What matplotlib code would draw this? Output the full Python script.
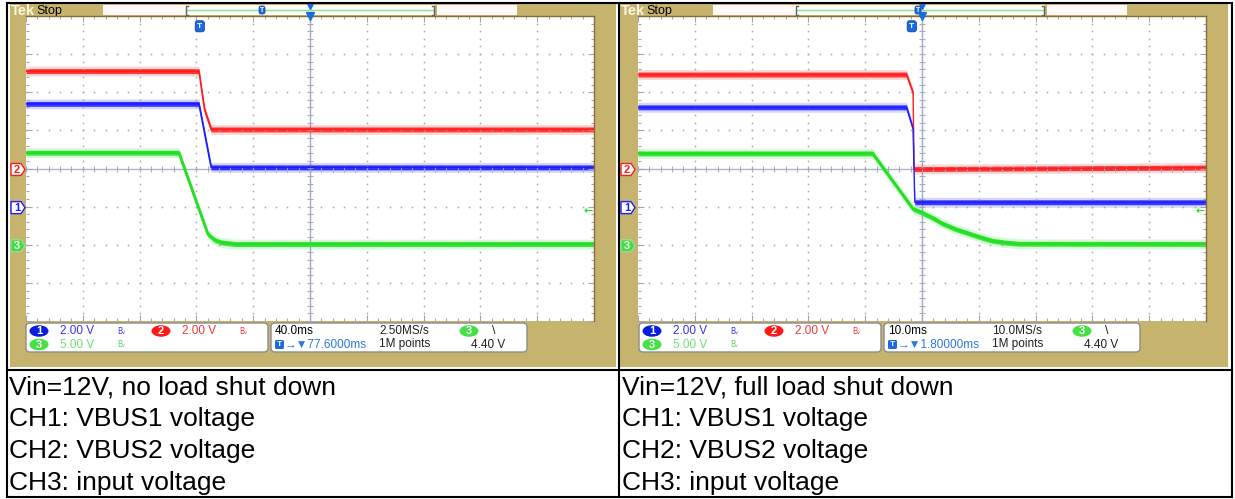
import numpy as np
import matplotlib
matplotlib.use('Agg')
from matplotlib import pyplot as plt
from matplotlib.patches import Rectangle, FancyBboxPatch, Polygon, Ellipse

# ---- data read off the two scope captures (t in ms, values in V) ----
# left: no load shut down, 40 ms/div, trigger offset 77.6 ms
ch1_left_t = [-122.4, -0.6, 8.0, 277.6]
ch1_left_v = [5.39, 5.39, 2.06, 2.06]
ch2_left_t = [-122.4, -0.6, 3.3, 8.0, 277.6]
ch2_left_v = [5.11, 5.11, 3.10, 2.05, 2.05]
ch3_left_t = [-122.4, -14.7, 5.7, 10.1, 15.1, 25.0, 277.6]
ch3_left_v = [12.07, 12.07, 1.40, 0.66, 0.30, 0.09, 0.09]

# right: full load shut down, 10 ms/div, trigger offset 1.8 ms
ch1_right_t = [-48.2, -0.93, 0.23, 0.53, 51.8]
ch1_right_v = [5.21, 5.21, 4.08, 0.23, 0.23]
ch2_right_t = [-48.2, -0.93, 0.23, 0.40, 51.8]
ch2_right_v = [4.93, 4.93, 3.97, -0.03, 0.05]
ch3_right_t = [-48.2, -6.9, 0.23, 1.70, 3.6, 5.44, 7.8, 10.2, 12.3, 14.2, 16.5, 18.9, 51.8]
ch3_right_v = [11.98, 11.98, 4.69, 4.24, 3.55, 2.76, 2.02, 1.44, 0.92, 0.52, 0.28, 0.13, 0.10]

volts_div = {'1': 2.0, '2': 2.0, '3': 5.0}
gnd_div = {'1': -1.0, '2': 0.0, '3': -2.0}
trig_level = 4.40

captions_left = ['Vin=12V, no load shut down', 'CH1: VBUS1 voltage',
                 'CH2: VBUS2 voltage', 'CH3: input voltage']
captions_right = ['Vin=12V, full load shut down', 'CH1: VBUS1 voltage',
                  'CH2: VBUS2 voltage', 'CH3: input voltage']

W, H = 1235, 499
TAN = '#c6b46e'
RED, BLUE, GREEN = '#ff1c1c', '#1c1cff', '#24e024'
GRIDC = '#a6a6a6'
SF = ['Liberation Sans', 'DejaVu Sans']

fig = plt.figure(figsize=(W / 100, H / 100), dpi=100)


def px_axes(x0, y0, x1, y1, z=0):
    return fig.add_axes([x0 / W, 1 - y1 / H, (x1 - x0) / W, (y1 - y0) / H], zorder=z)


bg = px_axes(0, 0, W, H)
bg.set_xlim(0, W)
bg.set_ylim(H, 0)
bg.axis('off')

GY0, GY1 = 16, 321
DIVPX = (GY1 - GY0) / 8.0
GYC = (GY0 + GY1) / 2.0


def div_to_px(d):
    return GYC - d * DIVPX


def trace(ax, t, v, ch, color, lw):
    y = np.array(v) / volts_div[ch] + gnd_div[ch]
    ax.fill_between(t, y - 0.13, y + 0.13, color=color, alpha=0.18, lw=0)
    ax.fill_between(t, y - 0.065, y + 0.065, color=color, alpha=0.85, lw=0)
    ax.plot(t, y, color=color, lw=lw, solid_capstyle='butt')


def tmark(ax_, x, y, fs, w, h):
    ax_.add_patch(FancyBboxPatch((x - w / 2, y - h / 2), w, h,
                                 boxstyle='round,pad=0,rounding_size=2',
                                 fc='#1a6ae0', ec='#0a3a9a', lw=0.5, zorder=6))
    ax_.text(x, y + 0.5, 'T', color='white', fontsize=fs, fontweight='bold',
             ha='center', va='center', family=SF, zorder=7)


def scope(tan0, tan1, gx0, gx1, center, tdiv, traces, bar_t, pan, tb, trig_txt):
    # tan frame
    bg.add_patch(Rectangle((tan0, 4), tan1 - tan0, 363, fc=TAN, ec='none'))
    # top bar
    bg.text(tan0 + 1, 10.5, 'Tek', color='#fbf4dc', fontsize=10.5, fontweight='bold',
            family=SF, va='center')
    bg.text(tan0 + 26, 10.5, 'Stop', color='black', fontsize=9, family=SF, va='center')
    bg.add_patch(Rectangle((tan0 + 93, 5), 82, 10, fc='#fff8f8', ec='none'))
    bg.add_patch(Rectangle((tan0 + 175, 5), 250, 10, fc='white', ec='none'))
    bg.plot([tan0 + 176, tan0 + 424], [9.5, 9.5], color='#88e088', lw=1)
    for bx, sgn in [(tan0 + 176, 1), (tan0 + 424, -1)]:
        bg.plot([bx + 2 * sgn, bx, bx, bx + 2 * sgn], [5.5, 5.5, 14.5, 14.5],
                color='#606060', lw=1)
    bg.add_patch(Rectangle((tan0 + 427, 5), 80, 10, fc='#fff8f8', ec='none'))
    tmark(bg, bar_t, 10, 5, 6, 8)
    gxc = (gx0 + gx1) / 2.0
    bg.plot([gxc], [6], marker='v', color='#1a6ae0', ms=5, ls='none')

    # graticule
    ax = px_axes(gx0, GY0, gx1, GY1, z=2)
    ax.set_facecolor('white')
    ax.set_xlim(center - 5 * tdiv, center + 5 * tdiv)
    ax.set_ylim(-4, 4)
    ax.set_xticks(center + np.arange(-5, 6) * tdiv)
    ax.set_xticks(center + np.arange(-5, 5.01, 0.2) * tdiv, minor=True)
    ax.set_yticks(np.arange(-4, 5))
    ax.set_yticks(np.arange(-4, 4.01, 0.2), minor=True)
    ax.tick_params(which='both', direction='in', top=True, right=True,
                   labelbottom=False, labelleft=False, color=GRIDC, width=0.8)
    ax.tick_params(which='major', length=4)
    ax.tick_params(which='minor', length=2)
    for s in ['left', 'bottom']:
        ax.spines[s].set_visible(False)
    for s in ['top', 'right']:
        ax.spines[s].set_color('#8a6a38')
        ax.spines[s].set_linewidth(1)
    yy = np.arange(-4, 4.01, 0.2)
    xx = center + np.arange(-5, 5.01, 0.2) * tdiv
    for k in [-4, -3, -2, -1, 1, 2, 3, 4]:
        ax.plot(np.full(len(yy), center + k * tdiv), yy, ls='none', marker='s',
                ms=1.1, mew=0, color=GRIDC)
    for j in [-3, -2, -1, 1, 2, 3]:
        ax.plot(xx, np.full(len(xx), j), ls='none', marker='s', ms=1.1, mew=0,
                color=GRIDC)
    ax.axvline(center, color='#a4aac6', lw=1, zorder=1)
    ax.axhline(0, color='#b0b4c8', lw=1, zorder=1)
    ax.plot(np.full(len(yy), center), yy, ls='none', marker='_', ms=5,
            color='#a4aac6', mew=0.8)
    ax.plot(xx, np.zeros(len(xx)), ls='none', marker='|', ms=5,
            color='#a4aac6', mew=0.8)

    for t, v, ch, col, lw in traces:
        trace(ax, t, v, ch, col, lw)

    ax.text(0, 3.73, 'T', color='white', fontsize=6, fontweight='bold',
            ha='center', va='center', family=SF, zorder=8,
            bbox=dict(boxstyle='round,pad=0.25,rounding_size=0.3', fc='#1a6ae0',
                      ec='#0a3a9a', lw=0.5))
    ax.plot([center], [4], marker='v', color='#1a6ae0', ms=6, clip_on=False,
            zorder=8)
    ax.text(center + 4.98 * tdiv, trig_level / volts_div['3'] + gnd_div['3'],
            '\u2190', color=GREEN, fontsize=8, ha='right', va='center',
            family=['DejaVu Sans'], fontweight='bold')

    # ground markers
    for ch, ec, fc, tc in [('2', RED, 'white', RED), ('1', BLUE, 'white', BLUE),
                           ('3', '#9ad89a', '#40e040', 'white')]:
        y = div_to_px(gnd_div[ch]) + 1
        x0 = tan0 + 1
        bg.add_patch(Polygon([(x0, y - 6), (x0 + 10, y - 6), (x0 + 14, y),
                              (x0 + 10, y + 6), (x0, y + 6)],
                             closed=True, fc=fc, ec=ec, lw=1, zorder=3))
        bg.text(x0 + 6, y + 0.5, ch, color=tc, fontsize=8, fontweight='bold',
                ha='center', va='center', family=SF, zorder=4)

    # bottom readout panel
    p = pan
    for bx0, bx1 in [(26 + p, 268 + p), (271 + p, 527 + p)]:
        bg.add_patch(FancyBboxPatch((bx0, 323), bx1 - bx0, 29,
                                    boxstyle='round,pad=0,rounding_size=4',
                                    fc='white', ec='#8c8c8c', lw=1, zorder=2))
    r1, r2 = 331, 344.5
    for cx, cy, lab, fc in [(39 + p, r1, '1', '#0a1ee0'), (161 + p, r1, '2', '#ff1a1a'),
                            (39 + p, r2, '3', '#44e044'), (469 + p, r1, '3', '#44e044')]:
        bg.add_patch(Ellipse((cx, cy), 19, 11.5, fc=fc, ec='none', zorder=3))
        bg.text(cx, cy + 0.5, lab, color='white', fontsize=8, fontweight='bold',
                ha='center', va='center', family=SF, zorder=4)
    txt = [(60 + p, r1, '2.00 V', '#3434f0'), (182 + p, r1, '2.00 V', '#f03a3a'),
           (60 + p, r2, '5.00 V', '#70e070'),
           (275 + p, r1, tb, 'black'), (379 + p, r1, trig_txt[1], '#202020'),
           (379 + p, r2, '1M points', '#202020'), (471 + p, r2, '4.40 V', '#202020'),
           (285 + p, r2, '\u2192\u25bc' + trig_txt[0], '#2a78e0')]
    for x, y, s, c in txt:
        bg.text(x, y, s, color=c, fontsize=8.5, family=SF, va='center', zorder=4)
    for x, c in [(121 + p, '#3434f0'), (243 + p, '#f03a3a')]:
        bg.text(x, r1, 'B\u1d65', color=c, fontsize=5.5, family=['DejaVu Sans'],
                ha='center', va='center', zorder=4)
    bg.text(121 + p, r2, 'B\u1d65', color='#60d060', fontsize=5.5,
            family=['DejaVu Sans'], ha='center', va='center', zorder=4)
    bg.text(494 + p, r1, '\\', color='#202020', fontsize=9, family=SF,
            ha='center', va='center', zorder=4)
    bg.add_patch(FancyBboxPatch((275 + p, r2 - 4.5), 9, 9,
                                boxstyle='round,pad=0,rounding_size=1.5',
                                fc='#1a6ae0', ec='none', zorder=3))
    bg.text(279.5 + p, r2 + 0.5, 'T', color='white', fontsize=6, fontweight='bold',
            ha='center', va='center', family=SF, zorder=4)


scope(10, 616, 26, 594, 77.6, 40.0,
      [(ch2_left_t, ch2_left_v, '2', RED, 1.2),
       (ch1_left_t, ch1_left_v, '1', BLUE, 1.2),
       (ch3_left_t, ch3_left_v, '3', GREEN, 2.0)],
      262, 0, '40.0ms', ('77.6000ms', '2.50MS/s'))
scope(620, 1228, 638, 1206, 1.8, 10.0,
      [(ch2_right_t, ch2_right_v, '2', RED, 1.0),
       (ch1_right_t, ch1_right_v, '1', BLUE, 1.0),
       (ch3_right_t, ch3_right_v, '3', GREEN, 2.0)],
      918, 613, '10.0ms', ('1.80000ms', '10.0MS/s'))

# table rules
lw_tab = 1.5
bg.plot([7, 1231.5, 1231.5, 7, 7], [3, 3, 497, 497, 3], color='black', lw=lw_tab,
        solid_joinstyle='miter')
bg.plot([618.5, 618.5], [3, 497], color='black', lw=lw_tab)
bg.plot([7, 1231.5], [370, 370], color='black', lw=lw_tab)

for i, (a, b) in enumerate(zip(captions_left, captions_right)):
    y = 387 + 32 * i
    bg.text(9, y, a, fontsize=19, family=SF, va='center', color='black')
    bg.text(622, y, b, fontsize=19, family=SF, va='center', color='black')

fig.savefig('out.png', dpi=100)
